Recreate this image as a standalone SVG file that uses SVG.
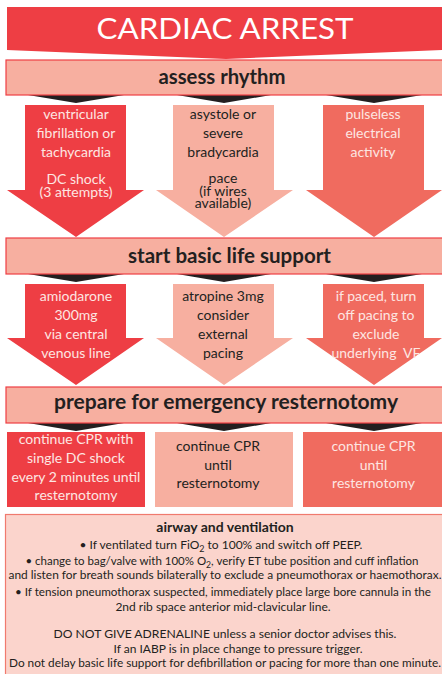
<svg xmlns="http://www.w3.org/2000/svg" width="442" height="674" viewBox="0 0 442 674">
<style>
text{font-family:Lato,"Open Sans","DejaVu Sans",sans-serif;text-anchor:middle}
.red{fill:#EE3E44}
.sal{fill:#F7AFA0}
.cor{fill:#F06B5F}
.bar{fill:#F7AFA0;stroke:#EE3E44;stroke-width:1.2}
.bt{font-size:20px;font-weight:bold;fill:#231F20}
.lt{font-size:14px;fill:#FDE6E2}
.dt{font-size:14px;fill:#231F20}
.sm{font-size:12px;fill:#231F20}
.sh{fill:#231F20}
</style>
<rect width="442" height="674" fill="#FFFFFF"/>
<g id="title">
<polygon class="red" points="7,7 442,7 442,50 226,59 7,50"/>
<text x="225" y="39" font-size="29" fill="#FFFFFF" textLength="257" lengthAdjust="spacingAndGlyphs">CARDIAC ARREST</text>
</g>
<g id="connectors">
<polygon class="sh" points="28,95 124,95 76,103"/>
<polygon class="sh" points="177,95 271,95 224,103"/>
<polygon class="sh" points="326,95 422,95 374,103"/>
<polygon class="sh" points="28,274 124,274 76,282"/>
<polygon class="sh" points="177,274 271,274 224,282"/>
<polygon class="sh" points="326,274 422,274 374,282"/>
<polygon class="sh" points="28,423 124,423 76,431"/>
<polygon class="sh" points="177,423 271,423 224,431"/>
<polygon class="sh" points="326,423 422,423 374,431"/>
</g>
<g id="assess">
<rect class="bar" x="6" y="60" width="440" height="35"/>
<text class="bt" x="222" y="84" textLength="127" lengthAdjust="spacingAndGlyphs">assess rhythm</text>
</g>
<g id="vf">
<polygon class="red" points="25,105 126,105 126,190 144,190 76,237 7,190 25,190"/>
<text class="lt" x="76" y="119">ventricular</text>
<text class="lt" x="76" y="138">fibrillation or</text>
<text class="lt" x="76" y="157">tachycardia</text>
<text class="lt" x="76" y="184">DC shock</text>
<text class="lt" x="76" y="197" font-size="13.5">(3 attempts)</text>
</g>
<g id="asystole">
<polygon class="sal" points="173,105 274,105 274,190 293,190 224,237 156,190 173,190"/>
<text class="dt" x="223" y="119">asystole or</text>
<text class="dt" x="223" y="138">severe</text>
<text class="dt" x="223" y="157">bradycardia</text>
<text class="dt" x="223" y="183">pace</text>
<text class="dt" x="223" y="195.5" font-size="13.5">(if wires</text>
<text class="dt" x="223" y="208" font-size="13.5">available)</text>
</g>
<g id="pea">
<polygon class="cor" points="323,105 424,105 424,190 442,190 374,237 306,190 323,190"/>
<text class="lt" x="373" y="119">pulseless</text>
<text class="lt" x="373" y="138">electrical</text>
<text class="lt" x="373" y="157">activity</text>
</g>
<g id="bls">
<rect class="bar" x="6" y="238" width="440" height="36"/>
<text class="bt" x="229.5" y="263" textLength="203" lengthAdjust="spacingAndGlyphs">start basic life support</text>
</g>
<g id="amiodarone">
<polygon class="red" points="25,284 126,284 126,338 144,338 76,385 7,338 25,338"/>
<text class="lt" x="76" y="301">amiodarone</text>
<text class="lt" x="76" y="320">300mg</text>
<text class="lt" x="76" y="339">via central</text>
<text class="lt" x="76" y="358">venous line</text>
</g>
<g id="atropine">
<polygon class="sal" points="173,284 274,284 274,338 293,338 224,385 156,338 173,338"/>
<text class="dt" x="223" y="301">atropine 3mg</text>
<text class="dt" x="223" y="320">consider</text>
<text class="dt" x="223" y="339">external</text>
<text class="dt" x="223" y="358">pacing</text>
</g>
<g id="paced">
<polygon class="cor" points="323,284 424,284 424,338 442,338 374,385 306,338 323,338"/>
<text class="lt" x="376" y="301">if paced, turn</text>
<text class="lt" x="376" y="320">off pacing to</text>
<text class="lt" x="376" y="339">exclude</text>
<text class="lt" x="376" y="358" xml:space="preserve">underlying  VF</text>
</g>
<g id="resternotomy">
<rect class="bar" x="6" y="387" width="440" height="36"/>
<text class="bt" x="226" y="409" textLength="344" lengthAdjust="spacingAndGlyphs">prepare for emergency resternotomy</text>
</g>
<g id="cpr1">
<rect class="red" x="7" y="432" width="138" height="75"/>
<text class="lt" x="76" y="444">continue CPR with</text>
<text class="lt" x="76" y="463">single DC shock</text>
<text class="lt" x="76" y="482">every 2 minutes until</text>
<text class="lt" x="76" y="500">resternotomy</text>
</g>
<g id="cpr2">
<rect class="sal" x="155" y="432" width="138" height="75"/>
<text class="dt" x="218" y="451">continue CPR</text>
<text class="dt" x="218" y="470">until</text>
<text class="dt" x="218" y="488">resternotomy</text>
</g>
<g id="cpr3">
<rect class="cor" x="303" y="432" width="140" height="75"/>
<text class="lt" x="373.5" y="451">continue CPR</text>
<text class="lt" x="373.5" y="470">until</text>
<text class="lt" x="373.5" y="488">resternotomy</text>
</g>
<g id="airway">
<rect x="5.5" y="514.5" width="440" height="165" fill="#FBD4CC" stroke="#F07A6E" stroke-width="1.2"/>
<text x="225" y="532" font-size="14" font-weight="bold" fill="#231F20">airway and ventilation</text>
<text class="sm" x="221" y="549">• If ventilated turn FiO<tspan font-size="9" dy="3">2</tspan><tspan dy="-3"> to 100% and switch off PEEP.</tspan></text>
<text class="sm" x="222" y="564.5" textLength="393" lengthAdjust="spacingAndGlyphs">• change to bag/valve with 100% O<tspan font-size="9" dy="3">2</tspan><tspan dy="-3">, verify ET tube position and cuff inflation</tspan></text>
<text class="sm" x="225" y="579" textLength="433" lengthAdjust="spacingAndGlyphs">and listen for breath sounds bilaterally to exclude a pneumothorax or haemothorax.</text>
<text class="sm" x="223" y="596" textLength="416" lengthAdjust="spacingAndGlyphs">• If tension pneumothorax suspected, immediately place large bore cannula in the</text>
<text class="sm" x="223" y="611">2nd rib space anterior mid-clavicular line.</text>
<text class="sm" x="225" y="638" textLength="343" lengthAdjust="spacingAndGlyphs">DO NOT GIVE ADRENALINE unless a senior doctor advises this.</text>
<text class="sm" x="238" y="653">If an IABP is in place change to pressure trigger.</text>
<text class="sm" x="225" y="667" textLength="432" lengthAdjust="spacingAndGlyphs">Do not delay basic life support for defibrillation or pacing for more than one minute.</text>
</g>
</svg>
